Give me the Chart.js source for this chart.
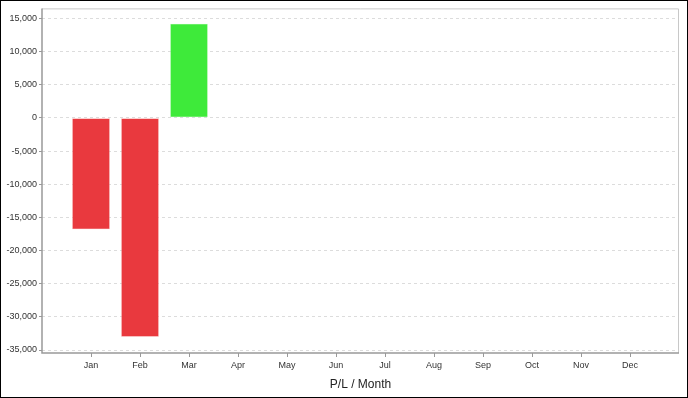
<!DOCTYPE html>
<html>
<head>
<meta charset="utf-8">
<script src="https://cdn.jsdelivr.net/npm/chart.js@4"></script>
<style>
  body { margin: 0; background: #fff; }
  #wrap { width: 688px; height: 398px; border: 1px solid #000; box-sizing: border-box; }
</style>
</head>
<body>
<div id="wrap"><canvas id="plGraph" width="686" height="396"></canvas></div>
<script>
// months on the x-axis
var months = ["Jan", "Feb", "Mar", "Apr", "May", "Jun", "Jul", "Aug", "Sep", "Oct", "Nov", "Dec"];
// profit / loss per month
var pl = [-16800, -33000, 14200, null, null, null, null, null, null, null, null, null];
// y tick labels
var yTicks = [15000, 10000, 5000, 0, -5000, -10000, -15000, -20000, -25000, -30000, -35000];

var points = [];
var colors = [];
var borders = [];
for (var i = 0; i < months.length; i++) {
    if (pl[i] === null) continue;
    points.push({ x: i + 1, y: pl[i] });
    colors.push(pl[i] < 0 ? "rgb(233,57,62)" : "rgb(62,234,58)");
    borders.push(pl[i] < 0 ? "rgba(245,150,150,0.8)" : "rgba(170,245,170,0.8)");
}

var frame = {
    id: "frame",
    afterDraw: function (chart) {
        var a = chart.chartArea, c = chart.ctx;
        c.save();
        c.strokeStyle = "#c8c8c8";
        c.lineWidth = 1;
        c.beginPath();
        c.moveTo(a.left, a.top + 0.5);
        c.lineTo(a.right - 0.5, a.top + 0.5);
        c.lineTo(a.right - 0.5, a.bottom);
        c.stroke();
        c.strokeStyle = "#999";
        c.lineWidth = 1.5;
        c.beginPath();
        c.moveTo(a.left, a.top);
        c.lineTo(a.left, a.bottom);
        c.lineTo(a.right, a.bottom);
        c.stroke();
        c.restore();
    }
};

Chart.defaults.font.family = "'Liberation Sans', Arial, sans-serif";

var ctx = document.getElementById("plGraph");
var graph = new Chart(ctx, {
    type: "bar",
    data: {
        datasets: [
            {
                data: points,
                backgroundColor: colors,
                borderColor: borders,
                borderWidth: 0.6,
                borderSkipped: false,
                barPercentage: 0.77,
                categoryPercentage: 1
            }
        ]
    },
    plugins: [frame],
    options: {
        responsive: false,
        animation: false,
        layout: { padding: { top: 6, right: 8, left: 0, bottom: 0 } },
        plugins: { legend: { display: false }, tooltip: { enabled: false } },
        scales: {
            x: {
                type: "linear",
                min: 0,
                max: 13,
                offset: false,
                afterBuildTicks: function (s) {
                    s.ticks = months.map(function (m, i) { return { value: i + 1 }; });
                },
                afterFit: function (s) { s.height = 44; },
                border: { display: false },
                grid: { offset: false, drawOnChartArea: false, tickLength: 4, tickColor: "#999" },
                ticks: {
                    padding: 3,
                    color: "#333",
                    font: { size: 9 },
                    maxRotation: 0,
                    autoSkip: false,
                    callback: function (v) { return months[v - 1]; }
                },
                title: {
                    display: true,
                    text: "P/L / Month",
                    color: "#222",
                    font: { size: 12 },
                    padding: { top: 4, bottom: 5 }
                }
            },
            y: {
                min: -35450,
                max: 16500,
                afterBuildTicks: function (s) {
                    s.ticks = yTicks.map(function (v) { return { value: v }; });
                },
                afterFit: function (s) { s.width = 41; },
                border: { display: false, dash: [3, 3] },
                grid: {
                    color: "#dcdcdc",
                    tickLength: 3,
                    tickColor: "#999",
                    tickBorderDash: [1, 0]
                },
                ticks: {
                    padding: 2,
                    color: "#333",
                    font: { size: 9 },
                    callback: function (v) { return v.toLocaleString("en-US"); }
                }
            }
        }
    }
});
</script>
</body>
</html>
